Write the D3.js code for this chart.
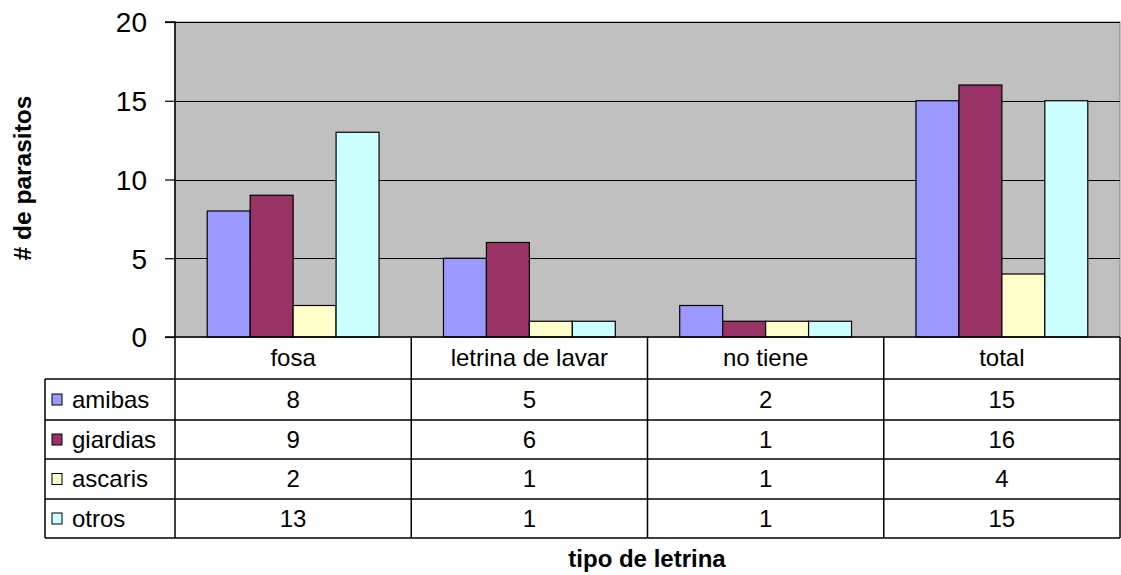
<!DOCTYPE html>
<html>
<head>
<meta charset="utf-8">
<script src="https://cdn.jsdelivr.net/npm/d3@7"></script>
<style>
  html, body { margin: 0; padding: 0; background: #fff; }
  svg { display: block; font-family: "Liberation Sans", Arial, sans-serif; }
</style>
</head>
<body>
<svg id="chart" width="1121" height="575"></svg>
<script>
// Parasite counts by latrine type
const categories = ["fosa", "letrina de lavar", "no tiene", "total"];
const seriesNames = ["amibas", "giardias", "ascaris", "otros"];
const amibas   = [8, 5, 2, 15];
const giardias = [9, 6, 1, 16];
const ascaris  = [2, 1, 1, 4];
const otros    = [13, 1, 1, 15];
const yTicks = [0, 5, 10, 15, 20];
const colors = ["#9999FF", "#993366", "#FFFFCC", "#CCFFFF"];

const seriesValues = [amibas, giardias, ascaris, otros];

const svg = d3.select("#chart");
const plot = { left: 175, right: 1120, top: 22, bottom: 337 };
const tableLeft = 45;
const rowEdges = [337, 379, 420, 459, 499, 538];
const tableFont = 24;

const x = d3.scaleBand().domain(categories).range([plot.left, plot.right]).paddingInner(0).paddingOuter(0);
// 150% gap between groups: each band = 4 bars + 1.5 bar widths of gap
const barW = x.bandwidth() / (seriesNames.length + 1.5);
const xs = d3.scaleBand().domain(seriesNames)
  .range([barW * 0.75, barW * 0.75 + barW * seriesNames.length]).padding(0);
const y = d3.scaleLinear().domain([0, 20]).range([plot.bottom, plot.top]);

// Plot background
svg.append("rect")
  .attr("x", plot.left).attr("y", plot.top)
  .attr("width", plot.right - plot.left).attr("height", plot.bottom - plot.top)
  .attr("fill", "#C0C0C0").attr("stroke", "#808080").attr("stroke-width", 1);

// Gridlines
svg.append("g").selectAll("line").data(yTicks.filter(t => t > 0)).join("line")
  .attr("x1", plot.left).attr("x2", plot.right)
  .attr("y1", d => Math.round(y(d)) + 0.5).attr("y2", d => Math.round(y(d)) + 0.5)
  .attr("stroke", "#000").attr("stroke-width", 1);

// Bars
const groups = svg.append("g").selectAll("g").data(categories).join("g")
  .attr("transform", d => `translate(${x(d)},0)`);
groups.selectAll("rect")
  .data((c, ci) => seriesNames.map((s, si) => ({ s, si, v: seriesValues[si][ci] })))
  .join("rect")
  .attr("x", d => xs(d.s))
  .attr("y", d => y(d.v))
  .attr("width", xs.bandwidth())
  .attr("height", d => y(0) - y(d.v))
  .attr("fill", d => colors[d.si])
  .attr("stroke", "#000").attr("stroke-width", 1.2);

// Y axis
const yAxis = d3.axisLeft(y).tickValues(yTicks).tickSize(10).tickPadding(18);
const ya = svg.append("g").attr("transform", `translate(${plot.left},0)`).call(yAxis);
ya.select(".domain").attr("stroke", "#000").attr("stroke-width", 1.5).attr("d", `M-10,${plot.top}H0V${plot.bottom}`);
ya.selectAll(".tick line").attr("stroke", "#000").attr("stroke-width", 1.2);
ya.selectAll(".tick text").attr("font-size", 28).attr("fill", "#000")
  .attr("font-family", "Liberation Sans, Arial, sans-serif").attr("dy", "0.35em");

// Data table
const table = svg.append("g").attr("stroke", "#000").attr("stroke-width", 1.5).attr("fill", "none");
// horizontal rules
table.append("line").attr("x1", plot.left - 10).attr("x2", plot.right).attr("y1", rowEdges[0]).attr("y2", rowEdges[0]);
rowEdges.slice(1).forEach(yy => {
  table.append("line").attr("x1", tableLeft).attr("x2", plot.right).attr("y1", yy).attr("y2", yy);
});
// vertical rules
table.append("line").attr("x1", tableLeft).attr("x2", tableLeft).attr("y1", rowEdges[1]).attr("y2", rowEdges[5]);
categories.forEach(c => {
  table.append("line").attr("x1", x(c)).attr("x2", x(c)).attr("y1", rowEdges[0]).attr("y2", rowEdges[5]);
});
table.append("line").attr("x1", plot.right).attr("x2", plot.right).attr("y1", rowEdges[0]).attr("y2", rowEdges[5]);

const rowMid = i => (rowEdges[i] + rowEdges[i + 1]) / 2;

// category header row
svg.append("g").selectAll("text").data(categories).join("text")
  .attr("x", d => x(d) + x.bandwidth() / 2).attr("y", rowMid(0))
  .attr("dy", "0.35em").attr("text-anchor", "middle")
  .attr("font-size", tableFont).attr("fill", "#000").text(d => d);

// series rows
seriesNames.forEach((s, si) => {
  const ym = rowMid(si + 1);
  svg.append("rect").attr("x", 52).attr("y", ym - 5.5).attr("width", 10).attr("height", 11)
    .attr("fill", colors[si]).attr("stroke", "#000").attr("stroke-width", 1);
  svg.append("text").attr("x", 72).attr("y", ym).attr("dy", "0.35em")
    .attr("font-size", tableFont).attr("fill", "#000").text(s);
  svg.append("g").selectAll("text").data(categories).join("text")
    .attr("x", d => x(d) + x.bandwidth() / 2).attr("y", ym)
    .attr("dy", "0.35em").attr("text-anchor", "middle")
    .attr("font-size", tableFont).attr("fill", "#000")
    .text((d, ci) => seriesValues[si][ci]);
});

// Axis titles
svg.append("text")
  .attr("transform", `translate(22,178) rotate(-90)`)
  .attr("text-anchor", "middle").attr("dy", "0.35em")
  .attr("font-size", 24.5).attr("font-weight", "bold").attr("fill", "#000")
  .text("# de parasitos");
svg.append("text")
  .attr("x", 647).attr("y", 567)
  .attr("text-anchor", "middle")
  .attr("font-size", 24).attr("font-weight", "bold").attr("fill", "#000")
  .text("tipo de letrina");
</script>
</body>
</html>
